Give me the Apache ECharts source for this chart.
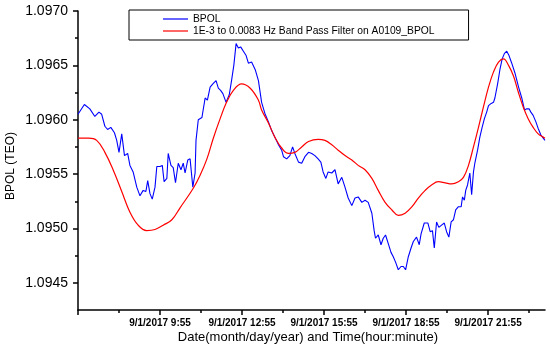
<!DOCTYPE html>
<html>
<head>
<meta charset="utf-8">
<script src="https://cdn.jsdelivr.net/npm/echarts@6/dist/echarts.min.js"></script>
<style>html,body{margin:0;padding:0;background:#fff}#c{width:550px;height:354px}</style>
</head>
<body>
<div id="c"></div>
<script>
// x values: minutes after 9/1/2017 6:55
const bpolMinutes = [0,14,26,37,46,52,59,65,72,80,85,90,96,102,109,114,121,129,136,143,149,153,158,163,169,173,180,185,189,195,198,204,209,214,220,226,231,235,241,246,252,257,259,264,272,279,284,290,296,303,308,313,318,325,332,337,342,347,352,357,363,369,374,381,389,396,403,410,418,425,432,440,447,451,458,465,471,476,484,491,498,506,513,520,527,533,538,544,549,557,564,571,579,586,593,601,608,615,623,630,637,645,650,653,659,665,670,675,681,687,692,697,703,709,714,719,725,731,736,743,749,753,760,768,773,778,782,787,792,798,804,809,814,819,824,829,835,841,844,848,851,855,860,864,868,871,877,882,887,892,897,901,907,912,915,921,926,931,936,941,946,952,959,967,974,980,985,990,994,999,1005,1010,1016,1021,1025];
const bpolValues = [1.09605,1.09614,1.09610,1.09603,1.09607,1.09605,1.09594,1.09591,1.09593,1.09588,1.09581,1.09570,1.09587,1.09567,1.09569,1.09558,1.09552,1.09538,1.09530,1.09535,1.09534,1.09544,1.09532,1.09527,1.09538,1.09557,1.09557,1.09558,1.09543,1.09546,1.09569,1.09558,1.09556,1.09542,1.09560,1.09554,1.09560,1.09551,1.09563,1.09564,1.09538,1.09551,1.09581,1.09600,1.09602,1.09620,1.09618,1.09630,1.09633,1.09636,1.09629,1.09627,1.09624,1.09616,1.09623,1.09636,1.09650,1.09670,1.09666,1.09667,1.09663,1.09659,1.09652,1.09653,1.09646,1.09636,1.09616,1.09606,1.09598,1.09590,1.09584,1.09577,1.09572,1.09566,1.09564,1.09567,1.09575,1.09569,1.09561,1.09560,1.09566,1.09570,1.09569,1.09567,1.09564,1.09561,1.09552,1.09546,1.09552,1.09551,1.09554,1.09541,1.09547,1.09538,1.09528,1.09521,1.09528,1.09529,1.09524,1.09526,1.09524,1.09514,1.09498,1.09491,1.09494,1.09485,1.09491,1.09494,1.09486,1.09478,1.09474,1.09469,1.09462,1.09465,1.09465,1.09462,1.09474,1.09482,1.09488,1.09492,1.09485,1.09495,1.09505,1.09505,1.09497,1.09498,1.09482,1.09506,1.09501,1.09503,1.09505,1.09497,1.09492,1.09506,1.09508,1.09517,1.09520,1.09520,1.09529,1.09526,1.09535,1.09540,1.09551,1.09531,1.09552,1.09560,1.09572,1.09584,1.09593,1.09601,1.09607,1.09613,1.09615,1.09616,1.09620,1.09633,1.09646,1.09656,1.09661,1.09663,1.09659,1.09652,1.09643,1.09630,1.09620,1.09609,1.09610,1.09610,1.09607,1.09604,1.09598,1.09592,1.09586,1.09583,1.09581];
const filterMinutes = [0,23,41,59,77,96,114,132,151,169,187,206,224,253,268,283,297,312,326,341,359,378,396,403,418,432,447,462,476,491,506,527,542,557,571,586,601,615,630,645,659,674,689,703,718,733,747,762,776,791,806,820,835,846,857,868,879,890,901,912,923,934,945,956,966,977,988,999,1010,1021,1025];
const filterValues = [1.09583,1.09583,1.09581,1.09570,1.09554,1.09534,1.09515,1.09503,1.09498,1.09499,1.09503,1.09508,1.09519,1.09537,1.09549,1.09564,1.09583,1.09601,1.09616,1.09627,1.09633,1.09629,1.09618,1.09609,1.09597,1.09584,1.09574,1.09569,1.09570,1.09575,1.09580,1.09582,1.09581,1.09577,1.09572,1.09567,1.09563,1.09558,1.09554,1.09546,1.09535,1.09524,1.09517,1.09512,1.09514,1.09520,1.09528,1.09535,1.09540,1.09543,1.09542,1.09541,1.09543,1.09547,1.09558,1.09575,1.09593,1.09612,1.09630,1.09644,1.09653,1.09656,1.09650,1.09640,1.09626,1.09612,1.09601,1.09593,1.09587,1.09584,1.09583];
const xMajorTicks = [0,180,360,540,720,900];
const xMinorTicks = [90,270,450,630,810,990];
const xTickMinutes = [180,360,540,720,900];
const xTickLabels = ['9/1/2017 9:55','9/1/2017 12:55','9/1/2017 15:55','9/1/2017 18:55','9/1/2017 21:55'];
const yMajorTicks = [1.0945,1.0950,1.0955,1.0960,1.0965,1.0970];
const yMinorTicks = [1.09475,1.09525,1.09575,1.09625,1.09675];
const seriesNames = ['BPOL','1E-3 to 0.0083 Hz Band Pass Filter on A0109_BPOL'];

const FONT = "Arial, 'Liberation Sans', sans-serif";
const X_MIN = 0, X_MAX = 1025, Y_MIN = 1.09425, Y_MAX = 1.0970;
const zip = (a, b) => a.map((v, i) => [v, b[i]]);

const chart = echarts.init(document.getElementById('c'), null, {renderer: 'canvas'});
chart.setOption({
  animation: false,
  backgroundColor: '#ffffff',
  grid: {left: 78, right: 5, top: 11, bottom: 44, containLabel: false, outerBoundsMode: 'none'},
  legend: {
    orient: 'vertical', left: 129, top: 10,
    padding: [3, 34, 3, 34], itemGap: 0, itemWidth: 25, itemHeight: 1.2, icon: 'rect',
    borderColor: '#000', borderWidth: 1, backgroundColor: '#fff',
    textStyle: {fontFamily: FONT, fontSize: 10.3, color: '#000', lineHeight: 12},
    data: seriesNames
  },
  xAxis: [{
    type: 'value', min: X_MIN, max: X_MAX, position: 'bottom',
    axisLine: {show: true, onZero: false, lineStyle: {color: '#000', width: 1.5}},
    axisTick: {show: true, customValues: xMajorTicks, length: 5, lineStyle: {color: '#000', width: 1.5}},
    axisLabel: {show: true, customValues: xTickMinutes, margin: 8, fontFamily: FONT, fontSize: 10, fontWeight: 'bold', color: '#000',
      formatter: v => { const i = xTickMinutes.indexOf(Math.round(v)); return i >= 0 ? xTickLabels[i] : ''; }},
    splitLine: {show: false}
  }, {
    type: 'value', min: X_MIN, max: X_MAX, position: 'bottom', gridIndex: 0,
    axisLine: {show: false},
    axisTick: {show: true, customValues: xMinorTicks, length: 3, lineStyle: {color: '#000', width: 1.5}},
    axisLabel: {show: false}, splitLine: {show: false}
  }],
  yAxis: [{
    type: 'value', min: Y_MIN, max: Y_MAX, position: 'left',
    axisLine: {show: true, onZero: false, lineStyle: {color: '#000', width: 1.5}},
    axisTick: {show: true, customValues: yMajorTicks, length: 5, lineStyle: {color: '#000', width: 1.5}},
    axisLabel: {show: true, customValues: yMajorTicks, margin: 10, fontFamily: FONT, fontSize: 14, color: '#000',
      formatter: v => v.toFixed(4)},
    splitLine: {show: false}
  }, {
    type: 'value', min: Y_MIN, max: Y_MAX, position: 'left', gridIndex: 0,
    axisLine: {show: false},
    axisTick: {show: true, customValues: yMinorTicks, length: 3, lineStyle: {color: '#000', width: 1.5}},
    axisLabel: {show: false}, splitLine: {show: false}
  }],
  graphic: [
    {type: 'text', x: 10.5, y: 166, rotation: Math.PI / 2,
      style: {text: 'BPOL (TEO)', fontFamily: FONT, fontSize: 12, fill: '#000', align: 'center', verticalAlign: 'middle'}},
    {type: 'text', x: 308, y: 337,
      style: {text: 'Date(month/day/year) and Time(hour:minute)', fontFamily: FONT, fontSize: 13, fill: '#000', align: 'center', verticalAlign: 'middle'}}
  ],
  series: [{
    name: seriesNames[0], type: 'line', xAxisIndex: 0, yAxisIndex: 0,
    data: zip(bpolMinutes, bpolValues), symbol: 'none', smooth: false,
    lineStyle: {color: '#0000ff', width: 1.1}, itemStyle: {color: '#0000ff'}, z: 2
  }, {
    name: seriesNames[1], type: 'line', xAxisIndex: 0, yAxisIndex: 0,
    data: zip(filterMinutes, filterValues), symbol: 'none', smooth: 0.4,
    lineStyle: {color: '#ff0000', width: 1.2}, itemStyle: {color: '#ff0000'}, z: 3
  }]
});
</script>
</body>
</html>
